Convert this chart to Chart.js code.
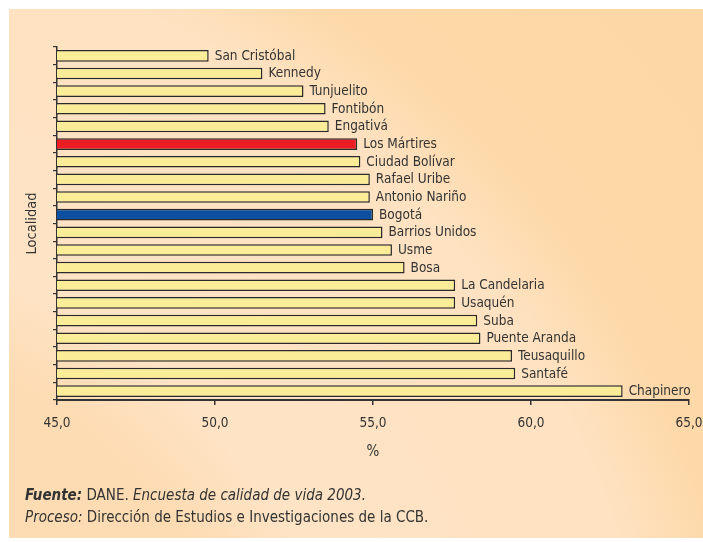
<!DOCTYPE html>
<html>
<head>
<meta charset="utf-8">
<script src="https://cdn.jsdelivr.net/npm/chart.js@4/dist/chart.umd.min.js"></script>
<style>
  html, body { margin: 0; padding: 0; background: #ffffff; }
  #wrap { position: relative; width: 703px; height: 542px; overflow: hidden; }
  #bg {
    position: absolute; left: 9px; top: 9px; width: 694px; height: 529px;
    background: radial-gradient(circle at -209px 791px,
      #FDDCB3 0px, #FDDCB3 470px, #FEE3C5 560px, #FEE2C1 860px, #FDD9A9 950px, #FDD8A6 1200px);
  }
  canvas#c { position: absolute; left: 0; top: 0; }
  .foot { position: absolute; left: 25px; font-family: "Liberation Sans Narrow", "DejaVu Sans Condensed", "Arial Narrow", sans-serif;
    font-size: 15px; color: #333333; white-space: nowrap; }
</style>
</head>
<body>
<div id="wrap">
  <div id="bg"></div>
  <canvas id="c" width="703" height="542"></canvas>
  <div class="foot" style="top:486px"><b><i>Fuente:</i></b> DANE. <i>Encuesta de calidad de vida 2003.</i></div>
  <div class="foot" style="top:508px"><i>Proceso:</i> Dirección de Estudios e Investigaciones de la CCB.</div>
</div>
<script>
const categories = ["San Cristóbal","Kennedy","Tunjuelito","Fontibón","Engativá","Los Mártires","Ciudad Bolívar","Rafael Uribe","Antonio Nariño","Bogotá","Barrios Unidos","Usme","Bosa","La Candelaria","Usaquén","Suba","Puente Aranda","Teusaquillo","Santafé","Chapinero"];
const values = [49.8,51.5,52.8,53.5,53.6,54.5,54.6,54.9,54.9,55.0,55.3,55.6,56.0,57.6,57.6,58.3,58.4,59.4,59.5,62.9];
const xTicks = [45,50,55,60,65];
const highlightRed = "Los Mártires";
const highlightBlue = "Bogotá";

const FONT = '"Liberation Sans Narrow", "DejaVu Sans Condensed", "Arial Narrow", sans-serif';
const TEXT = '#333333';

const colors = categories.map(c => c === highlightRed ? '#EC1C24' : (c === highlightBlue ? '#0D4FA0' : '#FBEC98'));

const barLabels = {
  id: 'barLabels',
  afterDatasetsDraw(chart) {
    const ctx = chart.ctx;
    const meta = chart.getDatasetMeta(0);
    ctx.save();
    ctx.font = '13.5px ' + FONT;
    ctx.fillStyle = TEXT;
    ctx.textAlign = 'left';
    ctx.textBaseline = 'middle';
    meta.data.forEach((el, i) => {
      ctx.fillText(categories[i], el.x + 6, el.y + 0.5);
    });
    ctx.restore();
  }
};

new Chart(document.getElementById('c'), {
  type: 'bar',
  data: {
    labels: categories,
    datasets: [{
      data: values,
      backgroundColor: colors,
      borderColor: '#2a2a2a',
      borderWidth: 1.5,
      borderSkipped: false,
      categoryPercentage: 1.0,
      barPercentage: 0.66
    }]
  },
  options: {
    indexAxis: 'y',
    responsive: false,
    animation: false,
    devicePixelRatio: 1,
    layout: { padding: { left: 20, right: 14, top: 47, bottom: 72 } },
    plugins: { legend: { display: false }, tooltip: { enabled: false } },
    scales: {
      x: {
        type: 'linear',
        min: 45, max: 65,
        afterBuildTicks(scale) { scale.ticks = xTicks.map(v => ({ value: v })); },
        afterFit(scale) { scale.height = 70; scale.paddingLeft = 0; scale.paddingRight = 0; },
        border: { display: true, color: '#333333', width: 2 },
        grid: { drawOnChartArea: false, drawTicks: true, tickLength: 5, color: '#333333', lineWidth: 1.5 },
        ticks: {
          color: TEXT, font: { family: FONT, size: 13.5 }, padding: 10,
          callback: v => v.toFixed(1).replace('.', ',')
        },
        title: { display: true, text: '%', color: TEXT, font: { family: FONT, size: 15 }, padding: { top: 0, bottom: 9 } }
      },
      y: {
        type: 'category',
        afterFit(scale) { scale.width = 37; scale.paddingTop = 0; scale.paddingBottom = 0; },
        border: { display: true, color: '#333333', width: 1.5 },
        grid: { drawOnChartArea: false, drawTicks: true, tickLength: 4, color: '#333333', lineWidth: 1.2, offset: true },
        ticks: { display: false },
        title: { display: true, text: 'Localidad', color: TEXT, font: { family: FONT, size: 14.5 }, padding: { top: 4, bottom: 0 } }
      }
    }
  },
  plugins: [barLabels]
});
</script>
</body>
</html>
